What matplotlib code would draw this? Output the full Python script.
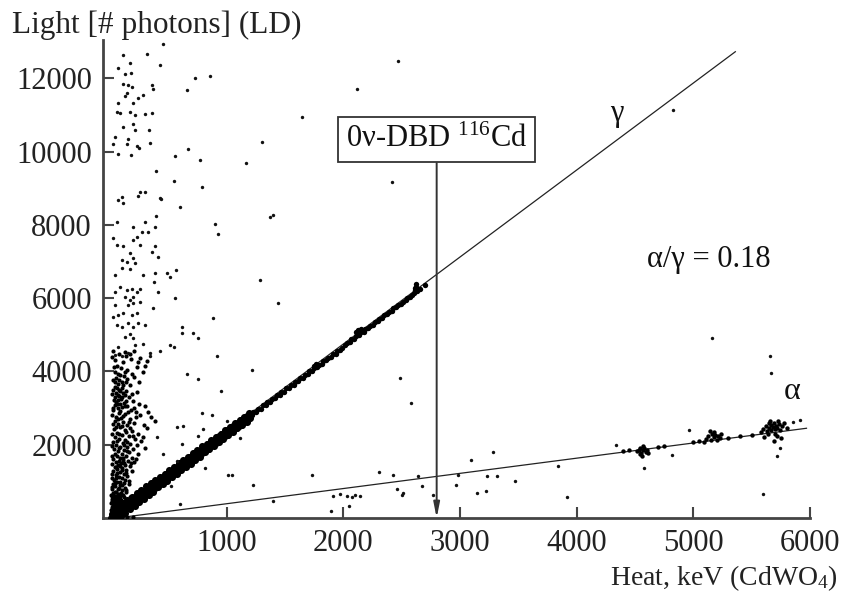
import numpy as np
import matplotlib
matplotlib.use("Agg")
import matplotlib.pyplot as plt

plt.rcParams['font.family'] = ['Liberation Serif', 'DejaVu Serif']
plt.rcParams['mathtext.fontset'] = 'custom'
plt.rcParams['mathtext.rm'] = 'Liberation Serif'
plt.rcParams['mathtext.it'] = 'Liberation Serif:italic'

# ---------------- data (heat keV, light photons) ----------------
x_ticks = [1000, 2000, 3000, 4000, 5000, 6000]
y_ticks = [2000, 4000, 6000, 8000, 10000, 12000]

gamma_line_heat = [0, 5360]
gamma_line_light = [0, 12730]
alpha_line_heat = [60, 5970]
alpha_line_light = [0, 2450]
qbb_heat = 2800
qbb_box_light = 9690

gamma_band_low = [
    (12, 5), (25, 40), (17, 110), (30, 210),
    (52, 0), (65, 85), (57, 190), (70, 300),
    (92, 60), (105, 180), (97, 290), (110, 400),
    (132, 150), (145, 270), (137, 380), (150, 490),
    (172, 250), (185, 360), (177, 470), (190, 585),
    (212, 340), (225, 450), (217, 570), (230, 680),
    (252, 440), (265, 545), (257, 660), (270, 770),
    (292, 530), (305, 640), (297, 750), (310, 865),
    (332, 620), (345, 735), (337, 845), (350, 955),
    (372, 715), (385, 825), (377, 940), (390, 1050),
    (412, 835), (425, 930), (417, 1025), (430, 1120),
    (452, 925), (465, 1020), (457, 1115), (470, 1210),
    (492, 1020), (505, 1115), (497, 1210), (510, 1305),
    (532, 1115), (545, 1210), (537, 1300), (550, 1400),
    (572, 1205), (585, 1300), (577, 1395), (590, 1490),
    (612, 1300), (625, 1395), (617, 1490), (630, 1585),
    (652, 1395), (665, 1490), (657, 1585), (670, 1675),
    (692, 1485), (705, 1580), (697, 1675), (710, 1770),
    (732, 1580), (745, 1675), (737, 1770), (750, 1865),
    (772, 1670), (785, 1770), (777, 1860), (790, 1955),
    (812, 1790), (825, 1870), (817, 1950), (830, 2025),
    (852, 1885), (865, 1965), (857, 2045), (870, 2120),
    (892, 1975), (905, 2055), (897, 2135), (910, 2210),
    (932, 2070), (945, 2150), (937, 2230), (950, 2305),
    (972, 2165), (985, 2245), (977, 2325), (990, 2400),
    (1012, 2255), (1025, 2335), (1017, 2415), (1030, 2490),
    (1052, 2350), (1065, 2430), (1057, 2510), (1070, 2585),
    (1092, 2445), (1105, 2525), (1097, 2605), (1110, 2680),
    (1132, 2535), (1145, 2615), (1137, 2695), (1150, 2770),
    (1172, 2630), (1185, 2710), (1177, 2790), (1190, 2865),
    (40, 30), (42, 170), (80, 115), (82, 255), (120, 210), (122, 350),
    (160, 300), (162, 445), (200, 395), (202, 540), (240, 490), (242, 630),
    (280, 580), (282, 725), (320, 675), (322, 815), (360, 770), (362, 910),
    (400, 860), (402, 1000), (440, 955), (442, 1095), (480, 1050), (482, 1190),
    (520, 1140), (522, 1280), (560, 1235), (562, 1375), (600, 1330), (602, 1470),
    (640, 1420), (642, 1560), (680, 1515), (682, 1655), (720, 1610), (722, 1745),
    (760, 1700), (762, 1840), (800, 1800), (802, 1930), (840, 1895), (842, 2020),
    (880, 1990), (882, 2110), (920, 2085), (922, 2200), (960, 2180), (962, 2295),
    (1000, 2270), (1002, 2390), (1040, 2365), (1042, 2480), (1080, 2460),
    (1082, 2575), (1120, 2550), (1122, 2665), (1160, 2645), (1162, 2760),
    (1200, 2740), (1202, 2850),
]

gamma_band_high = [
    (1215, 2800), (1228, 2890), (1255, 2890), (1268, 2985),
    (1295, 2985), (1308, 3075), (1335, 3075), (1348, 3170),
    (1375, 3170), (1388, 3260), (1415, 3265), (1428, 3355),
    (1455, 3355), (1468, 3450), (1495, 3450), (1508, 3540),
    (1535, 3545), (1548, 3630), (1575, 3640), (1588, 3725),
    (1615, 3735), (1628, 3815), (1655, 3830), (1668, 3905),
    (1695, 3920), (1708, 4000), (1735, 4015), (1748, 4095),
    (1775, 4110), (1788, 4185), (1815, 4200), (1828, 4280),
    (1855, 4300), (1868, 4370), (1895, 4390), (1908, 4465),
    (1935, 4485), (1948, 4560), (1975, 4580), (1988, 4650),
    (2015, 4715), (2028, 4780), (2055, 4810), (2068, 4875),
    (2095, 4900), (2108, 4970), (2135, 4995), (2148, 5065),
    (2175, 5090), (2188, 5160), (2215, 5185), (2228, 5250),
    (2255, 5280), (2268, 5345), (2295, 5370), (2308, 5440),
    (2335, 5465), (2348, 5535), (2375, 5560), (2388, 5625),
    (2415, 5655), (2428, 5720), (2455, 5750), (2468, 5815),
    (2495, 5845), (2508, 5905), (2535, 5940), (2548, 6000),
    (2575, 6030), (2588, 6095), (2610, 6150), (2618, 6230),
    (2625, 6300), (2630, 6200), (2622, 6380), (2615, 6270),
    (2660, 6240), (2700, 6350),
    (2110, 5080), (2125, 5130), (2140, 5100), (2150, 5160),
    (1750, 4150), (1765, 4200),
]

low_energy_cluster = [
    (30, 4550), (75, 4480), (140, 4420), (210, 4560), (260, 4380), (45, 4300),
    (110, 4250), (180, 4330), (320, 4280), (60, 4150), (95, 4100), (150, 4050),
    (230, 4120), (40, 3980), (70, 3940), (85, 3900), (120, 3870), (190, 3920),
    (280, 3990), (55, 3820), (80, 3760), (100, 3720), (135, 3700), (65, 3650),
    (170, 3620),
    (40, 3580), (60, 3540), (75, 3500), (90, 3460), (50, 3420), (110, 3400),
    (65, 3370), (80, 3330), (130, 3350), (45, 3290), (95, 3260), (160, 3300),
    (70, 3220), (55, 3180), (120, 3150), (200, 3200), (85, 3100), (40, 3080),
    (150, 3050), (250, 3120), (100, 3020), (65, 2990), (180, 2960), (300, 3050),
    (220, 2900),
    (30, 2950), (75, 2880), (130, 2850), (260, 2800), (50, 2770), (95, 2730),
    (170, 2700), (350, 2760), (40, 2650), (110, 2620), (210, 2600), (65, 2560),
    (145, 2530), (290, 2550), (85, 2480), (35, 2420), (125, 2400), (190, 2380),
    (60, 2330), (240, 2300), (100, 2260), (160, 2230), (45, 2200), (80, 2150),
    (130, 2120), (215, 2150), (30, 2080), (110, 2050), (175, 2020), (270, 2090),
    (55, 1980), (90, 1950), (145, 1930), (35, 1890), (120, 1860), (200, 1880),
    (70, 1820), (165, 1790), (40, 1760), (100, 1740), (240, 1760), (60, 1700),
    (135, 1680), (85, 1640), (185, 1650), (30, 1600), (115, 1580), (155, 1560),
    (50, 1530), (95, 1500), (210, 1520), (70, 1460), (130, 1440), (40, 1400),
    (170, 1420), (105, 1370), (60, 1330), (140, 1310), (30, 1280), (85, 1250),
    (190, 1270), (120, 1210), (50, 1180), (75, 1120), (150, 1150), (100, 1080),
    (35, 1040),
    (60, 990), (120, 960), (25, 930), (90, 900), (160, 920), (45, 860),
    (75, 830), (130, 810), (20, 780), (100, 760), (55, 720), (140, 700),
    (30, 670), (85, 650), (115, 620), (15, 590), (65, 570), (170, 560),
    (40, 530), (95, 500), (20, 470), (130, 460), (60, 430), (80, 400),
    (30, 380), (110, 350), (50, 320), (15, 290), (75, 270), (35, 240),
    (100, 220), (55, 190), (20, 160), (80, 140), (40, 110), (120, 100),
    (10, 80), (60, 60), (30, 40), (90, 30), (150, 40), (200, 20), (15, 15),
    (20, 4400), (125, 4520), (170, 4480), (240, 4250), (300, 4150), (35, 4120),
    (130, 3980), (210, 3850), (25, 3760), (150, 3800), (250, 3700), (45, 3700),
    (115, 3620), (30, 3500), (100, 3550), (140, 3480), (230, 3450), (20, 3380),
    (185, 3380), (105, 3290), (35, 3220), (140, 3200), (60, 3100), (125, 3060),
    (25, 3000), (210, 3000), (90, 2930), (155, 2900), (330, 2900), (20, 2820),
    (110, 2780), (220, 2760), (70, 2700), (390, 2650), (160, 2630), (25, 2560),
    (100, 2520), (320, 2450), (50, 2480), (170, 2470), (140, 2350), (20, 2300),
    (80, 2280), (280, 2220), (200, 2240), (60, 2100), (150, 2070), (230, 2000),
    (20, 1960), (120, 1990), (300, 1900), (75, 1900), (150, 1840), (20, 1700),
    (110, 1640), (220, 1600), (80, 1560), (180, 1500), (20, 1480), (120, 1500),
    (50, 1380), (90, 1420), (20, 1200), (140, 1240), (100, 1300), (60, 1240),
    (20, 1100), (125, 1050), (55, 1090), (160, 1000), (85, 980), (40, 950),
    (105, 890), (20, 850), (65, 800), (140, 760), (40, 700), (95, 690),
    (10, 640), (65, 650), (120, 560), (40, 600), (90, 560), (15, 520),
    (70, 490), (105, 440), (40, 440), (10, 400), (55, 370), (90, 330),
    (25, 330), (130, 300), (60, 250), (10, 220), (110, 170), (45, 160),
    (85, 90), (20, 50),
]

scattered_events = [
    (114, 12634), (314, 12680), (455, 12950), (70, 12280), (171, 12415),
    (129, 12135), (180, 12150), (429, 12360), (729, 12000), (857, 12060),
    (114, 11860), (157, 11815), (186, 11770), (357, 11815), (371, 11725),
    (657, 11680), (143, 11590), (129, 11515), (286, 11545), (243, 11455),
    (200, 11317), (71, 11317), (57, 11090), (86, 11045), (171, 11090),
    (214, 11000), (300, 11025), (357, 11060), (200, 10770), (109, 10680),
    (214, 10590), (337, 10590), (43, 10410), (157, 10335), (28, 10205),
    (143, 10205), (229, 10150), (251, 10115), (343, 10245), (71, 9935),
    (177, 9910), (1305, 10255), (671, 10065), (557, 9880), (771, 9770),
    (1166, 9680), (394, 9480), (549, 9205), (786, 9025), (257, 8907),
    (300, 8907), (100, 8770), (243, 8790), (429, 8725), (71, 8680),
    (114, 8590), (437, 8700), (600, 8480), (1371, 8225), (1395, 8265),
    (394, 8245), (57, 8090), (900, 8017), (929, 7745), (200, 7950),
    (300, 8070), (386, 7935), (272, 7815), (329, 7815), (229, 7680),
    (200, 7590), (28, 7635), (57, 7453), (114, 7425), (257, 7453),
    (386, 7425), (357, 7270), (171, 7225), (100, 7045), (143, 7000),
    (200, 7090), (214, 6955), (414, 7135), (100, 6818), (171, 6790),
    (43, 6635), (286, 6635), (386, 6680), (486, 6680), (514, 6570),
    (566, 6770), (377, 6450), (1286, 6500), (414, 6180), (86, 6315),
    (143, 6225), (186, 6245), (229, 6180), (257, 6245), (43, 6180),
    (557, 6000), (1443, 5865), (129, 6045), (171, 5955), (200, 6045),
    (257, 5910), (43, 5820), (157, 5820), (200, 5865), (371, 5730),
    (28, 5500), (71, 5545), (114, 5590), (186, 5545), (229, 5590),
    (57, 5270), (100, 5225), (157, 5320), (200, 5225), (243, 5320),
    (300, 5270), (886, 5455), (614, 5225), (614, 5060), (714, 5045),
    (751, 4910), (129, 4950), (171, 5025), (200, 4910), (71, 4680),
    (214, 4725), (286, 4755), (429, 4570), (514, 4725), (549, 4680),
    (43, 4455), (100, 4425), (157, 4500), (343, 4500), (343, 4410),
    (914, 4435),
    (1214, 4045), (657, 3935), (751, 3790), (949, 3455), (786, 2880),
    (871, 2815), (571, 2480), (623, 2525), (800, 2425), (400, 2210),
    (1000, 2660), (614, 2025), (757, 2245), (1114, 2180), (457, 1755),
    (571, 1545), (814, 1365), (1014, 1175), (1043, 1175), (1229, 890),
    (523, 860), (600, 390),
    (2471, 12470), (2114, 11700), (1643, 10935), (2414, 9180), (4829, 11135),
    (2486, 3818), (2577, 3153),
    (1734, 1180), (2306, 1245), (2429, 1180), (2643, 1135), (2671, 862),
    (2457, 790), (2500, 635), (2514, 680), (1400, 453), (1914, 590),
    (1971, 662), (2034, 608), (2071, 573), (2100, 635), (2143, 608),
    (2051, 335), (1891, 180), (2771, 635), (2966, 908), (2986, 1180),
    (3091, 1590), (3286, 1790), (3234, 1135), (3320, 1135), (3149, 680),
    (3220, 725), (3471, 1017), (3843, 1407), (3914, 562), (4337, 2000),
    (4577, 1363), (4820, 1727), (4966, 2408), (5594, 663), (5157, 4910),
    (5657, 4425), (5666, 3970), (5714, 1680), (5743, 1910), (5914, 2680),
    (5854, 2610),
]

alpha_events = [
    (4400, 1830), (4450, 1850), (4700, 1950), (4750, 1960), (5000, 2070),
    (5050, 2090), (5300, 2190), (5400, 2230), (5500, 2270),
    (4520, 1820), (4540, 1900), (4555, 1780), (4565, 1860), (4580, 1920),
    (4590, 1800), (4545, 1740), (4570, 1970), (4600, 1860), (4530, 1860),
    (4560, 1700), (4610, 1780),
    (5110, 2150), (5130, 2250), (5150, 2120), (5160, 2300), (5175, 2200),
    (5190, 2260), (5200, 2140), (5215, 2230), (5230, 2180), (5145, 2380),
    (5180, 2350), (5240, 2280), (5090, 2080),
    (5600, 2420), (5620, 2520), (5630, 2380), (5645, 2600), (5650, 2460),
    (5665, 2540), (5670, 2400), (5685, 2480), (5690, 2580), (5700, 2430),
    (5710, 2520), (5720, 2460), (5735, 2560), (5745, 2410), (5760, 2500),
    (5780, 2580), (5800, 2470), (5640, 2300), (5700, 2300), (5720, 2230),
    (5750, 2180), (5580, 2360), (5660, 2640), (5730, 2650), (5610, 2200),
    (5690, 2100),
]

# ---------------- figure ----------------
W, H = 845, 595
fig = plt.figure(figsize=(W / 100, H / 100), dpi=100)
ax = fig.add_axes([103 / W, 1 - 518 / H, (810 - 103) / W, (518 - 40) / H])
ax.set_xlim(-60, 6000)
ax.set_ylim(0, 13050)

def pts(lst):
    a = np.array(lst, dtype=float)
    return a[:, 0], a[:, 1]

blx, bly = pts(gamma_band_low)
bhx, bhy = pts(gamma_band_high)
cx, cy = pts(low_energy_cluster)
sx, sy = pts(scattered_events)
axx, ayy = pts(alpha_events)

ax.scatter(blx, bly, s=26, c='black', marker='o', linewidths=0, zorder=3)
ax.scatter(bhx, bhy, s=15, c='black', marker='o', linewidths=0, zorder=3)
ax.scatter(cx, cy, s=9, c='black', marker='o', linewidths=0, zorder=3)
ax.scatter(sx, sy, s=6, c='#111111', marker='o', linewidths=0, zorder=3)
ax.scatter(axx, ayy, s=10, c='black', marker='o', linewidths=0, zorder=3)

ax.plot(gamma_line_heat, gamma_line_light, color='#222222', lw=0.9, zorder=2)
ax.plot(alpha_line_heat, alpha_line_light, color='#222222', lw=0.9, zorder=2)

# arrow for Q-value
ax.annotate('', xy=(qbb_heat, 0), xytext=(qbb_heat, qbb_box_light),
            arrowprops=dict(arrowstyle='-|>,head_length=0.9,head_width=0.18',
                            color='#333333', lw=1.4, shrinkA=0, shrinkB=0),
            zorder=4)
ax.text(qbb_heat, 10340, r'0ν-DBD $^{116}$Cd', ha='center', va='center',
        fontsize=22, color='#111111',
        bbox=dict(boxstyle='square,pad=0.25', fc='white', ec='#333333', lw=1.3),
        zorder=5)

ax.text(4345, 11050, 'γ', ha='center', va='center', fontsize=22, color='#111111')
ax.text(4603, 7044, 'α/γ = 0.18', ha='left', va='center', fontsize=22, color='#111111')
ax.text(5845, 3445, 'α', ha='center', va='center', fontsize=23, color='#111111')

# axes styling
for side in ['top', 'right']:
    ax.spines[side].set_visible(False)
for side in ['left', 'bottom']:
    ax.spines[side].set_color('#444444')
    ax.spines[side].set_linewidth(2)
ax.set_xticks(x_ticks)
ax.set_yticks(y_ticks)
ax.set_xticklabels([str(v) for v in x_ticks])
ax.set_yticklabels([str(v) for v in y_ticks])
ax.tick_params(direction='in', length=8, width=1.5, color='#444444',
               labelsize=22, labelcolor='#222222', pad=8)

fig.text(12 / W, 1 - 25 / H, 'Light [# photons] (LD)', ha='left', va='center',
         fontsize=22.5, color='#222222')
fig.text(838 / W, 1 - 578 / H, r'Heat, keV (CdWO$_4$)', ha='right', va='center',
         fontsize=20, color='#222222')

fig.savefig('out.png', dpi=100)
